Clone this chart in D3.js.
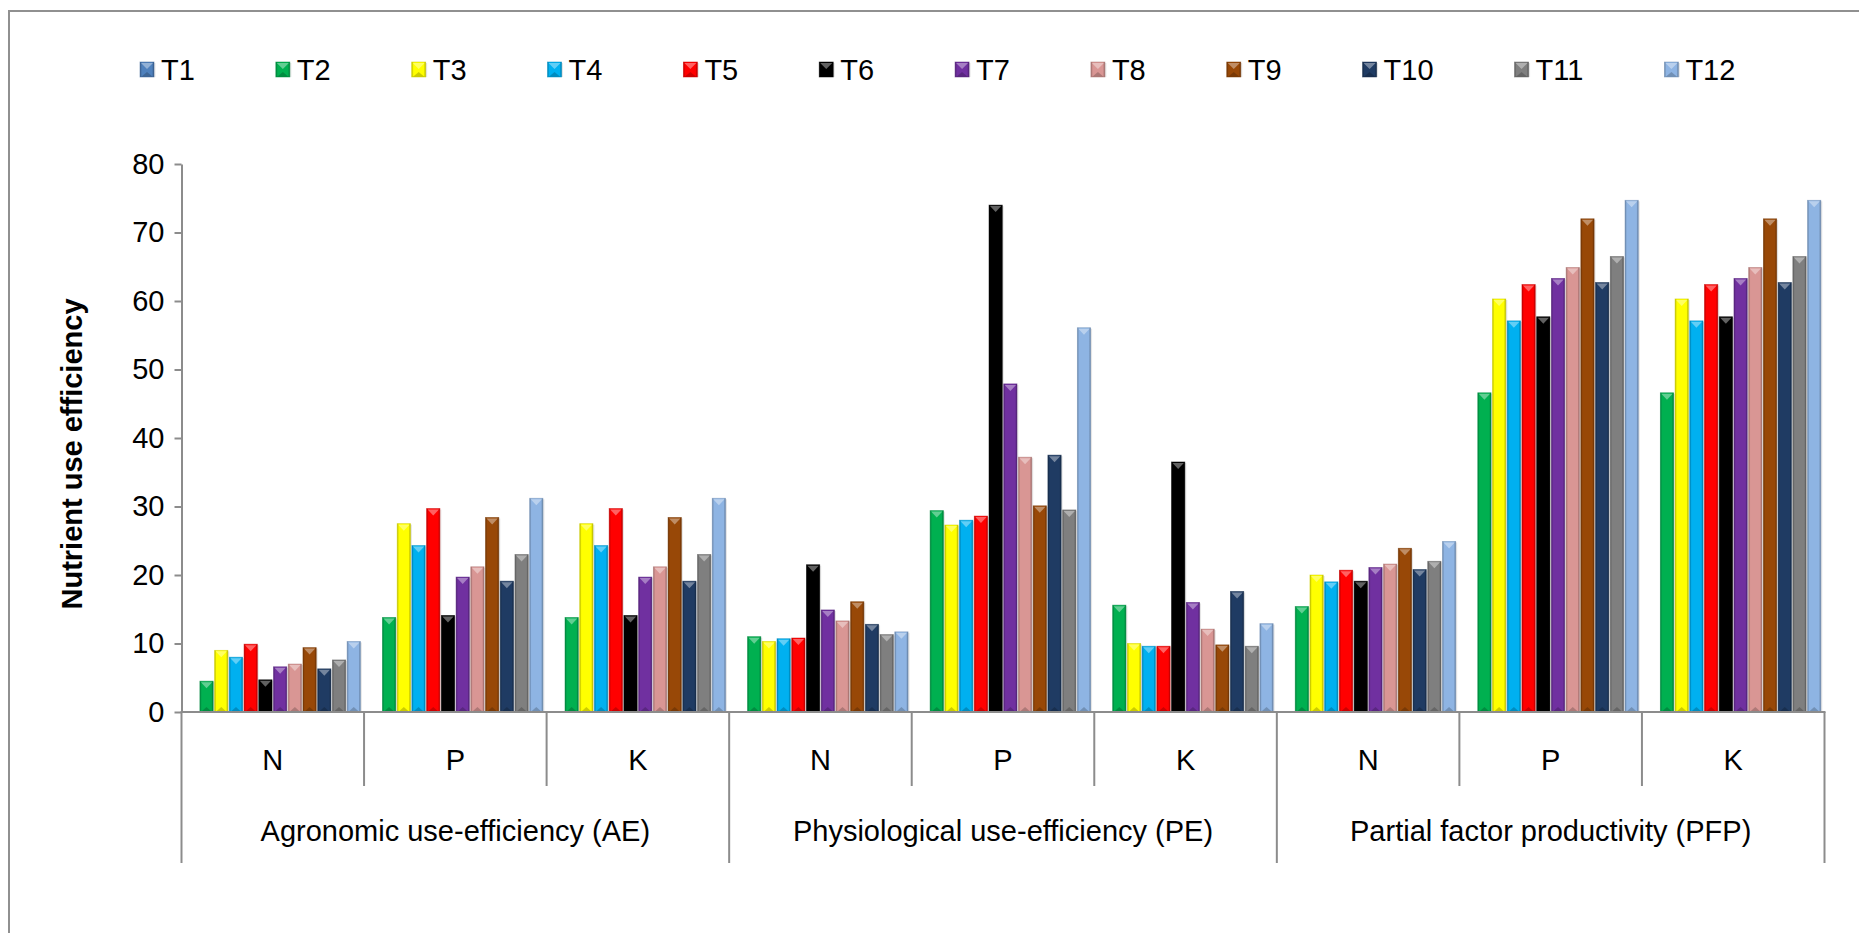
<!DOCTYPE html>
<html>
<head>
<meta charset="utf-8">
<script src="https://cdn.jsdelivr.net/npm/d3@7"></script>
<style>
  html, body { margin: 0; padding: 0; background: #fff; }
  svg { display: block; }
  text { font-family: "Liberation Sans", Arial, sans-serif; }
</style>
</head>
<body>
<svg id="chart" width="1859" height="933"></svg>
<script>
// ---------------- DATA ----------------
const groups = ["Agronomic use-efficiency (AE)", "Physiological use-efficiency (PE)", "Partial factor productivity (PFP)"];
const nutrients = ["N", "P", "K"];
const seriesNames = ["T1","T2","T3","T4","T5","T6","T7","T8","T9","T10","T11","T12"];
const seriesColors = ["#4F81BD","#00B050","#FFFF00","#00B0F0","#FF0000","#000000","#7030A0","#D99694","#984807","#1F3B63","#7F7F7F","#8EB4E3"];
// values per series, in order: AE N, AE P, AE K, PE N, PE P, PE K, PFP N, PFP P, PFP K
const T1  = [0, 0, 0, 0, 0, 0, 0, 0, 0];
const T2  = [4.5, 13.8, 13.8, 11.0, 29.4, 15.6, 15.4, 46.6, 46.6];
const T3  = [9.0, 27.5, 27.5, 10.3, 27.3, 10.0, 20.0, 60.3, 60.3];
const T4  = [8.0, 24.3, 24.3, 10.7, 28.0, 9.6, 19.0, 57.1, 57.1];
const T5  = [9.9, 29.7, 29.7, 10.8, 28.6, 9.6, 20.7, 62.4, 62.4];
const T6  = [4.7, 14.1, 14.1, 21.5, 74.0, 36.5, 19.1, 57.7, 57.7];
const T7  = [6.6, 19.7, 19.7, 14.9, 47.9, 16.0, 21.1, 63.3, 63.3];
const T8  = [7.0, 21.2, 21.2, 13.3, 37.2, 12.1, 21.6, 64.9, 64.9];
const T9  = [9.4, 28.4, 28.4, 16.1, 30.1, 9.8, 23.9, 72.0, 72.0];
const T10 = [6.3, 19.1, 19.1, 12.8, 37.5, 17.6, 20.8, 62.7, 62.7];
const T11 = [7.6, 23.0, 23.0, 11.3, 29.5, 9.6, 22.0, 66.5, 66.5];
const T12 = [10.3, 31.2, 31.2, 11.7, 56.1, 12.9, 24.9, 74.7, 74.7];
const seriesValues = [T1,T2,T3,T4,T5,T6,T7,T8,T9,T10,T11,T12];
const yTicks = [0,10,20,30,40,50,60,70,80];
const yTitle = "Nutrient use efficiency";

// ---------------- LAYOUT ----------------
const svg = d3.select("#chart");
const FONT = 29;
const axisColor = "#8c8c8c";

const cats = [];
groups.forEach((g, gi) => nutrients.forEach((n, ni) => cats.push({key: gi + "-" + ni, group: g, gi, label: n, idx: gi*3+ni})));

const plotLeft = 181.5, plotRight = 1824.5, plotBottom = 712, plotTop = 164;

const x0 = d3.scaleBand().domain(cats.map(c => c.key)).range([plotLeft, plotRight]).paddingInner(0).paddingOuter(0);
const x1 = d3.scaleBand().domain(seriesNames).range([0, x0.bandwidth()]).paddingInner(0.1).paddingOuter(0.25);
const y = d3.scaleLinear().domain([0, 80]).range([plotBottom, plotTop]);
const color = d3.scaleOrdinal().domain(seriesNames).range(seriesColors);

const defs = svg.append("defs");
const gh = defs.append("linearGradient").attr("id", "bevelH").attr("x1", 0).attr("x2", 1).attr("y1", 0).attr("y2", 0);
gh.append("stop").attr("offset", 0).attr("stop-color", "#000").attr("stop-opacity", 0.28);
gh.append("stop").attr("offset", 0.14).attr("stop-color", "#000").attr("stop-opacity", 0.0);
gh.append("stop").attr("offset", 0.86).attr("stop-color", "#000").attr("stop-opacity", 0.0);
gh.append("stop").attr("offset", 1).attr("stop-color", "#000").attr("stop-opacity", 0.32);

// frame
svg.append("path")
  .attr("d", "M9,933 L9,11 L1859,11")
  .attr("fill", "none").attr("stroke", "#909090").attr("stroke-width", 2);

function bevelBar(g, x, yTop, w, h, fill) {
  if (h <= 0) return;
  g.append("rect").attr("x", x + 1.5).attr("y", yTop + 1).attr("width", w).attr("height", h - 1)
    .attr("fill", "#000").attr("opacity", 0.10);
  g.append("rect").attr("x", x).attr("y", yTop).attr("width", w).attr("height", h)
    .attr("fill", fill);
  g.append("rect").attr("x", x).attr("y", yTop).attr("width", w).attr("height", h)
    .attr("fill", "url(#bevelH)");
  const tri = Math.min(6, h / 2);
  g.append("path")
    .attr("d", `M${x + 1},${yTop + 1} L${x + w - 1},${yTop + 1} L${x + w / 2},${yTop + tri + 1} Z`)
    .attr("fill", "#fff").attr("opacity", 0.38);
  g.append("path")
    .attr("d", `M${x + 1},${yTop + h} L${x + w - 1},${yTop + h} L${x + w / 2},${yTop + h - Math.min(5, h / 2)} Z`)
    .attr("fill", "#000").attr("opacity", 0.2);
  g.append("rect").attr("x", x).attr("y", yTop).attr("width", w).attr("height", h)
    .attr("fill", "none").attr("stroke", d3.color(fill).darker(0.6)).attr("stroke-opacity", 0.6).attr("stroke-width", 0.8);
}

// bars
const barsG = svg.append("g");
cats.forEach(c => {
  seriesNames.forEach((s, si) => {
    const v = seriesValues[si][c.idx];
    const bx = x0(c.key) + x1(s);
    bevelBar(barsG, bx, y(v), x1.bandwidth(), y(0) - y(v), color(s));
  });
});

// Y axis
const yAxis = d3.axisLeft(y).tickValues(yTicks).tickSize(7).tickSizeOuter(0).tickPadding(10);
const yg = svg.append("g").attr("transform", `translate(${plotLeft},0)`).call(yAxis);
yg.select(".domain").attr("stroke", axisColor).attr("stroke-width", 2);
yg.selectAll(".tick line").attr("stroke", axisColor).attr("stroke-width", 2);
yg.selectAll(".tick text").attr("font-size", FONT).attr("fill", "#000")
  .style("font-family", '"Liberation Sans", Arial, sans-serif');

// Y title
svg.append("text")
  .attr("transform", `translate(72,454) rotate(-90)`)
  .attr("text-anchor", "middle").attr("font-size", FONT).attr("font-weight", "bold")
  .attr("dy", "0.35em").text(yTitle);

// X axis line and separators
const xg = svg.append("g");
xg.append("line").attr("x1", plotLeft - 1).attr("x2", plotRight + 1).attr("y1", plotBottom).attr("y2", plotBottom)
  .attr("stroke", axisColor).attr("stroke-width", 2);
const bounds = cats.map(c => x0(c.key)).concat([x0(cats[cats.length - 1].key) + x0.bandwidth()]);
bounds.forEach((bx, i) => {
  const isGroup = i % 3 === 0;
  xg.append("line").attr("x1", bx).attr("x2", bx).attr("y1", plotBottom).attr("y2", isGroup ? 863 : 786)
    .attr("stroke", axisColor).attr("stroke-width", 2);
});
xg.selectAll("text.sub").data(cats).join("text").attr("class", "sub")
  .attr("x", c => x0(c.key) + x0.bandwidth() / 2).attr("y", 770)
  .attr("text-anchor", "middle").attr("font-size", FONT).text(c => c.label);
xg.selectAll("text.grp").data(groups).join("text").attr("class", "grp")
  .attr("x", (g, gi) => (x0(cats[gi * 3].key) + x0(cats[gi * 3 + 2].key) + x0.bandwidth()) / 2)
  .attr("y", 841).attr("text-anchor", "middle").attr("font-size", FONT).text(g => g);

// Legend
const legG = svg.append("g");
let lx = 140;
const legY = 69.5;
seriesNames.forEach((s, si) => {
  const item = legG.append("g");
  bevelBar(item, lx, legY - 7.5, 14, 15, color(s));
  const t = item.append("text").attr("x", lx + 21).attr("y", legY).attr("dy", "0.36em")
    .attr("font-size", FONT).text(s);
  const tw = t.node().getComputedTextLength();
  lx += tw + 102;
});
</script>
</body>
</html>
